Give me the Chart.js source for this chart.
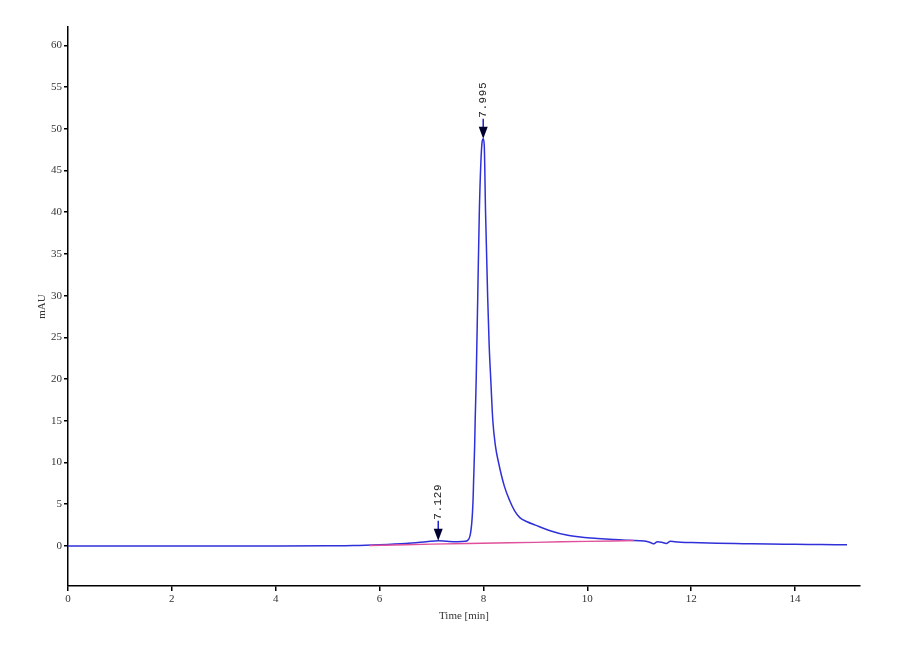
<!DOCTYPE html>
<html><head><meta charset="utf-8">
<script src="https://cdn.jsdelivr.net/npm/chart.js@4"></script>
<style>html,body{margin:0;padding:0;background:#fff;} #wrap{width:900px;height:660px;}</style>
</head><body><div id="wrap"><canvas id="c" width="900" height="660"></canvas></div>
<script>
// Chromatogram signal (blue)
const timeMin = [0,1,2,3,4,5,5.5,6.0,6.5,6.9,7.13,7.3,7.5,7.65,7.7,7.73,7.755,7.775,7.79,7.80,7.81,7.83,7.84,7.86,7.89,7.92,7.95,7.975,7.995,8.015,8.04,8.08,8.11,8.14,8.18,8.23,8.29,8.4,8.5,8.6,8.7,8.84,9.0,9.3,9.6,9.9,10.2,10.5,10.8,11.1,11.2,11.27,11.35,11.43,11.52,11.6,11.68,11.8,12,12.5,13,13.5,14,14.5,15];
const signalMAU = [0,0,0,0,0,0.02,0.05,0.15,0.3,0.5,0.62,0.55,0.5,0.55,0.7,1.0,1.7,2.8,4.2,5.6,7.8,12,15,20,30,40,46,48.5,48.8,48,40,30,24,20,15,12,10,7.2,5.5,4.2,3.4,2.9,2.5,1.8,1.3,1.05,0.9,0.78,0.68,0.6,0.45,0.25,0.5,0.45,0.3,0.55,0.5,0.45,0.4,0.32,0.27,0.22,0.2,0.17,0.15];
// Integration baseline (pink)
const baseTime = [5.8,6.5,7.0,7.7,8.5,9.0,9.5,10.0,10.5,10.9];
const baseMAU = [0.05,0.15,0.22,0.3,0.38,0.43,0.5,0.55,0.6,0.66];
// Peak markers
const peakTimes = [7.129,7.995];
const peakValues = [0.62,48.8];
const peakLabels = ['7.129','7.995'];
// Tick labels
const xTicks = [0,2,4,6,8,10,12,14];
const yTicks = [0,5,10,15,20,25,30,35,40,45,50,55,60];

const toPts = (xs, ys) => xs.map((x,i)=>({x:x, y:ys[i]}));

const peakPlugin = {
  id:'peaks',
  afterDatasetsDraw(chart){
    const ctx = chart.ctx, xs = chart.scales.x, ys = chart.scales.y;
    peakTimes.forEach((t,i)=>{
      ctx.save();
      const px = xs.getPixelForValue(t), py = ys.getPixelForValue(peakValues[i]);
      ctx.strokeStyle = '#2020d0'; ctx.lineWidth = 1.5;
      ctx.beginPath(); ctx.moveTo(px, py-20); ctx.lineTo(px, py-10); ctx.stroke();
      ctx.fillStyle = '#000030';
      ctx.beginPath(); ctx.moveTo(px-4.5, py-12); ctx.lineTo(px+4.5, py-12); ctx.lineTo(px, py); ctx.closePath(); ctx.fill();
      ctx.translate(px, py-21);
      ctx.rotate(-Math.PI/2);
      ctx.font = '11px "Liberation Mono"';
      ctx.letterSpacing = '0.6px';
      ctx.fillStyle = '#222';
      ctx.textAlign = 'left'; ctx.textBaseline = 'middle';
      ctx.fillText(peakLabels[i], 0, 0);
      ctx.restore();
    });
  }
};

const tickFont = {family:'"Liberation Serif"', size:11};
new Chart(document.getElementById('c'), {
  type:'line',
  data:{datasets:[
    {data: toPts(baseTime, baseMAU), borderColor:'#e0509a', borderWidth:1.4, pointRadius:0, tension:0},
    {data: toPts(timeMin, signalMAU), borderColor:'#3030d8', borderWidth:1.5, pointRadius:0, cubicInterpolationMode:'monotone'}
  ]},
  options:{
    responsive:false, animation:false,
    layout:{padding:{left:36, top:27, right:40, bottom:37}},
    plugins:{legend:{display:false}, tooltip:{enabled:false}},
    scales:{
      x:{type:'linear', min:0, max:15.25,
        afterBuildTicks: s => { s.ticks = xTicks.map(v=>({value:v})); },
        afterFit: s => { s.height = 37; },
        grid:{display:true, drawOnChartArea:false, drawTicks:true, tickLength:5, color:'#000', lineWidth:1.5},
        border:{display:true, color:'#000', width:1.5},
        ticks:{font:tickFont, color:'#333', padding:2, maxRotation:0},
        title:{display:true, text:'Time [min]', font:tickFont, color:'#333', padding:{top:0, bottom:0}}
      },
      y:{type:'linear', min:-4.8, max:62.2,
        afterBuildTicks: s => { s.ticks = yTicks.map(v=>({value:v})); },
        afterFit: s => { s.width = 32; },
        grid:{display:true, drawOnChartArea:false, drawTicks:true, tickLength:4, color:'#000', lineWidth:1.5},
        border:{display:true, color:'#000', width:1.5},
        ticks:{font:tickFont, color:'#333', padding:2},
        title:{display:true, text:'mAU', font:tickFont, color:'#333', padding:{top:0, bottom:0}}
      }
    }
  },
  plugins:[peakPlugin]
});
</script>
</body></html>
